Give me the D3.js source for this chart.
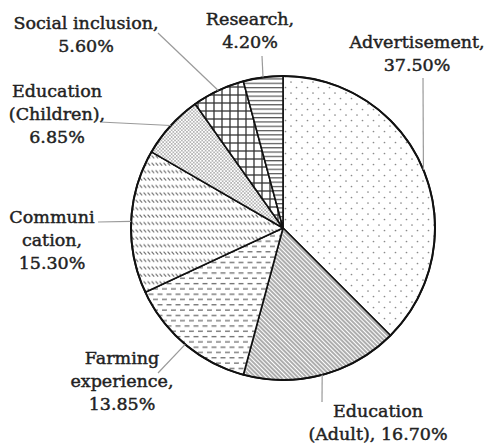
<!DOCTYPE html>
<html>
<head>
<meta charset="utf-8">
<script src="https://cdn.jsdelivr.net/npm/d3@7"></script>
<style>
  html, body { margin: 0; padding: 0; background: #fff; }
  svg { display: block; }
  text { font-family: "DejaVu Serif", serif; font-size: 17.5px; fill: #222;
         stroke: #222; stroke-width: 0.45px; }
</style>
</head>
<body>
<svg id="chart" width="489" height="445"></svg>
<script>
// Shares of activity types (percent), clockwise from 12 o'clock
const categories = [
  "Advertisement",
  "Education (Adult)",
  "Farming experience",
  "Communication",
  "Education (Children)",
  "Social inclusion",
  "Research"
];
const shares = [37.50, 16.70, 13.85, 15.30, 6.85, 5.60, 4.20];

// Label text lines (the value line is appended from shares)
const labelLines = [
  ["Advertisement,"],
  ["Education", "(Adult), "],
  ["Farming", "experience,"],
  ["Communi", "cation,"],
  ["Education", "(Children),"],
  ["Social inclusion,"],
  ["Research,"]
];

// Label placement: text centre x, first baseline y, leader end point
const labelLayout = [
  { x: 417, y: 48,  end: [423, 78] },
  { x: 378, y: 417, end: [322, 402], inlineValue: true },
  { x: 122, y: 364, end: [158, 373] },
  { x: 52,  y: 223, end: [98, 222] },
  { x: 57,  y: 97,  end: [100, 122] },
  { x: 86,  y: 29,  end: [158, 33] },
  { x: 250, y: 25,  end: [262, 56] }
];

const svg = d3.select("#chart");
const cx = 283, cy = 228, radius = 152;
const lineH = 23;

// Fill patterns, one per slice
const defs = svg.append("defs");

function pattern(id, w, h, build, transform) {
  const p = defs.append("pattern")
    .attr("id", id)
    .attr("patternUnits", "userSpaceOnUse")
    .attr("width", w).attr("height", h);
  if (transform) p.attr("patternTransform", transform);
  p.append("rect").attr("width", w).attr("height", h).attr("fill", "#fff");
  build(p);
}

// sparse staggered dots
pattern("p-adv", 11, 11, p => {
  p.append("circle").attr("cx", 2.5).attr("cy", 2.5).attr("r", 0.85).attr("fill", "#8a8a8a");
  p.append("circle").attr("cx", 8).attr("cy", 8).attr("r", 0.85).attr("fill", "#8a8a8a");
});
// dense diagonal hatching
pattern("p-eduA", 3, 3, p => {
  p.append("line").attr("x1", 1).attr("y1", 0).attr("x2", 1).attr("y2", 3)
    .attr("stroke", "#6a6a6a").attr("stroke-width", 1.1);
}, "rotate(-45)");
// staggered horizontal dashes
pattern("p-farm", 9, 10.6, p => {
  const st = { stroke: "#6f6f6f", w: 1.3 };
  p.append("line").attr("x1", 0.5).attr("y1", 2.6).attr("x2", 5.5).attr("y2", 2.6)
    .attr("stroke", st.stroke).attr("stroke-width", st.w);
  p.append("line").attr("x1", 5).attr("y1", 7.9).attr("x2", 9).attr("y2", 7.9)
    .attr("stroke", st.stroke).attr("stroke-width", st.w);
  p.append("line").attr("x1", 0).attr("y1", 7.9).attr("x2", 1).attr("y2", 7.9)
    .attr("stroke", st.stroke).attr("stroke-width", st.w);
});
// rows of short backslash strokes
pattern("p-comm", 4, 7.4, p => {
  p.append("line").attr("x1", 0.6).attr("y1", 1.5).attr("x2", 3.2).attr("y2", 4.3)
    .attr("stroke", "#6f6f6f").attr("stroke-width", 1.2);
});
// fine stipple
pattern("p-eduC", 3.4, 3.4, p => {
  p.append("circle").attr("cx", 0.85).attr("cy", 0.85).attr("r", 0.75).attr("fill", "#8f8f8f");
  p.append("circle").attr("cx", 2.55).attr("cy", 2.55).attr("r", 0.75).attr("fill", "#8f8f8f");
});
// square grid
pattern("p-soc", 8, 8, p => {
  p.append("line").attr("x1", 3).attr("y1", 0).attr("x2", 3).attr("y2", 8)
    .attr("stroke", "#333").attr("stroke-width", 1.3);
  p.append("line").attr("x1", 0).attr("y1", 3).attr("x2", 8).attr("y2", 3)
    .attr("stroke", "#333").attr("stroke-width", 1.3);
});
// horizontal lines
pattern("p-res", 8, 4.3, p => {
  p.append("line").attr("x1", 0).attr("y1", 1.5).attr("x2", 8).attr("y2", 1.5)
    .attr("stroke", "#444").attr("stroke-width", 1.1);
});

const fills = d3.scaleOrdinal()
  .domain(categories)
  .range(["url(#p-adv)", "url(#p-eduA)", "url(#p-farm)", "url(#p-comm)",
          "url(#p-eduC)", "url(#p-soc)", "url(#p-res)"]);

const pie = d3.pie().sort(null).value(d => d.value);
const data = categories.map((c, i) => ({ name: c, value: shares[i], idx: i }));
const arcs = pie(data);

const arc = d3.arc().innerRadius(0).outerRadius(radius);
const edgeArc = d3.arc().innerRadius(radius).outerRadius(radius);

const g = svg.append("g").attr("transform", `translate(${cx},${cy})`);

g.selectAll("path.slice")
  .data(arcs)
  .join("path")
  .attr("class", "slice")
  .attr("d", arc)
  .attr("fill", d => fills(d.data.name))
  .attr("stroke", "#111")
  .attr("stroke-width", 1.6)
  .attr("stroke-linejoin", "round");

// outer rim
g.append("circle").attr("r", radius).attr("fill", "none")
  .attr("stroke", "#111").attr("stroke-width", 2);

// leader lines from each slice's outer midpoint
svg.selectAll("line.leader")
  .data(arcs)
  .join("line")
  .attr("class", "leader")
  .attr("x1", d => cx + edgeArc.centroid(d)[0])
  .attr("y1", d => cy + edgeArc.centroid(d)[1])
  .attr("x2", d => labelLayout[d.data.idx].end[0])
  .attr("y2", d => labelLayout[d.data.idx].end[1])
  .attr("stroke", "#9a9a9a")
  .attr("stroke-width", 1.2);

// labels
const fmt = d3.format(".2f");
arcs.forEach(d => {
  const i = d.data.idx;
  const lay = labelLayout[i];
  const lines = labelLines[i].slice();
  const val = fmt(d.data.value) + "%";
  if (lay.inlineValue) lines[lines.length - 1] += val;
  else lines.push(val);
  const t = svg.append("text").attr("text-anchor", "middle");
  lines.forEach((ln, k) => {
    t.append("tspan").attr("x", lay.x).attr("y", lay.y + k * lineH).text(ln);
  });
});
</script>
</body>
</html>
